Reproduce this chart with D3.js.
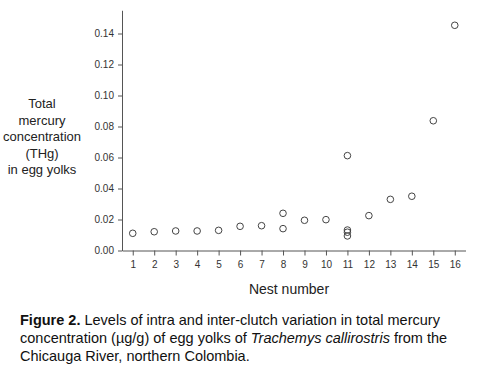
<!DOCTYPE html>
<html>
<head>
<meta charset="utf-8">
<script src="https://cdn.jsdelivr.net/npm/d3@7"></script>
<style>
  body { margin: 0; background: #fff; }
  svg text { font-family: "Liberation Sans", Arial, sans-serif; }
</style>
</head>
<body>
<div id="chart"></div>
<script>
// nest number and THg value for each egg yolk sample
var nests = [1, 2, 3, 4, 5, 6, 7, 8, 8, 9, 10, 11, 11, 11, 11, 12, 13, 14, 15, 16];
var thg = [0.0111, 0.0121, 0.0126, 0.0126, 0.0130, 0.0156, 0.0160, 0.0240, 0.0141, 0.0195,
           0.0199, 0.0612, 0.0132, 0.0118, 0.0094, 0.0225, 0.0330, 0.0350, 0.0837, 0.1453];
var xTicks = d3.range(1, 17);
var yTicks = [0, 0.02, 0.04, 0.06, 0.08, 0.10, 0.12, 0.14];
var yTitle = ["Total", "mercury", "concentration", "(THg)", "in egg yolks"];

function draw() {
    var w = 486, h = 382;

    var svg = d3.select("#chart")
                .append("svg")
                .attr("width", w)
                .attr("height", h);

    var xScale = d3.scaleLinear()
                    .domain([0.5, 16.5])
                    .range([122, 465.5]);

    var yScale = d3.scaleLinear()
                    .domain([0, 0.155])
                    .range([250.5, 10.25]);

    var xAxis = d3.axisBottom(xScale)
                    .tickValues(xTicks)
                    .tickSize(5)
                    .tickSizeOuter(0)
                    .tickPadding(5);

    var yAxis = d3.axisLeft(yScale)
                    .tickValues(yTicks)
                    .tickFormat(d3.format(".2f"))
                    .tickSize(4)
                    .tickSizeOuter(0)
                    .tickPadding(4);

    var gx = svg.append("g") //x axis
        .attr("transform", "translate(0," + yScale(0) + ")")
        .call(xAxis);

    var gy = svg.append("g") //y axis
        .attr("transform", "translate(" + xScale(0.5) + ",0)")
        .call(yAxis);

    [gx, gy].forEach(function(g) {
        g.select(".domain").attr("stroke", "#555");
        g.selectAll(".tick line").attr("stroke", "#555");
        g.selectAll(".tick text")
            .attr("fill", "#333")
            .style("font-size", "10px")
            .style("font-family", "'Liberation Sans', Arial, sans-serif");
    });

    svg.selectAll("circle.pt")
        .data(thg)
        .enter()
        .append("circle")
        .attr("class", "pt")
        .attr("cx", function(d, i) { return xScale(nests[i]); })
        .attr("cy", function(d) { return yScale(d); })
        .attr("r", 3.3)
        .attr("fill", "none")
        .attr("stroke", "#444")
        .attr("stroke-width", 1);

    // y axis title, stacked lines
    svg.append("text")
        .attr("text-anchor", "middle")
        .attr("fill", "#222")
        .style("font-size", "13px")
        .selectAll("tspan")
        .data(yTitle)
        .enter()
        .append("tspan")
        .attr("x", 42)
        .attr("y", function(d, i) { return 108 + i * 16.6; })
        .text(function(d) { return d; });

    svg.append("text")
        .attr("x", 289)
        .attr("y", 294)
        .attr("text-anchor", "middle")
        .attr("fill", "#222")
        .style("font-size", "14px")
        .text("Nest number");

    // caption
    var cap = svg.append("g").attr("fill", "#111").style("font-size", "14.5px");
    var l1 = cap.append("text").attr("x", 20).attr("y", 325);
    l1.append("tspan").style("font-weight", "bold").text("Figure 2.");
    l1.append("tspan").text(" Levels of intra and inter-clutch variation in total mercury");
    var l2 = cap.append("text").attr("x", 20).attr("y", 343);
    l2.append("tspan").text("concentration (\u00b5g/g) of egg yolks of ");
    l2.append("tspan").style("font-style", "italic").text("Trachemys callirostris");
    l2.append("tspan").text(" from the");
    cap.append("text").attr("x", 20).attr("y", 361).text("Chicauga River, northern Colombia.");
}

draw();
</script>
</body>
</html>
